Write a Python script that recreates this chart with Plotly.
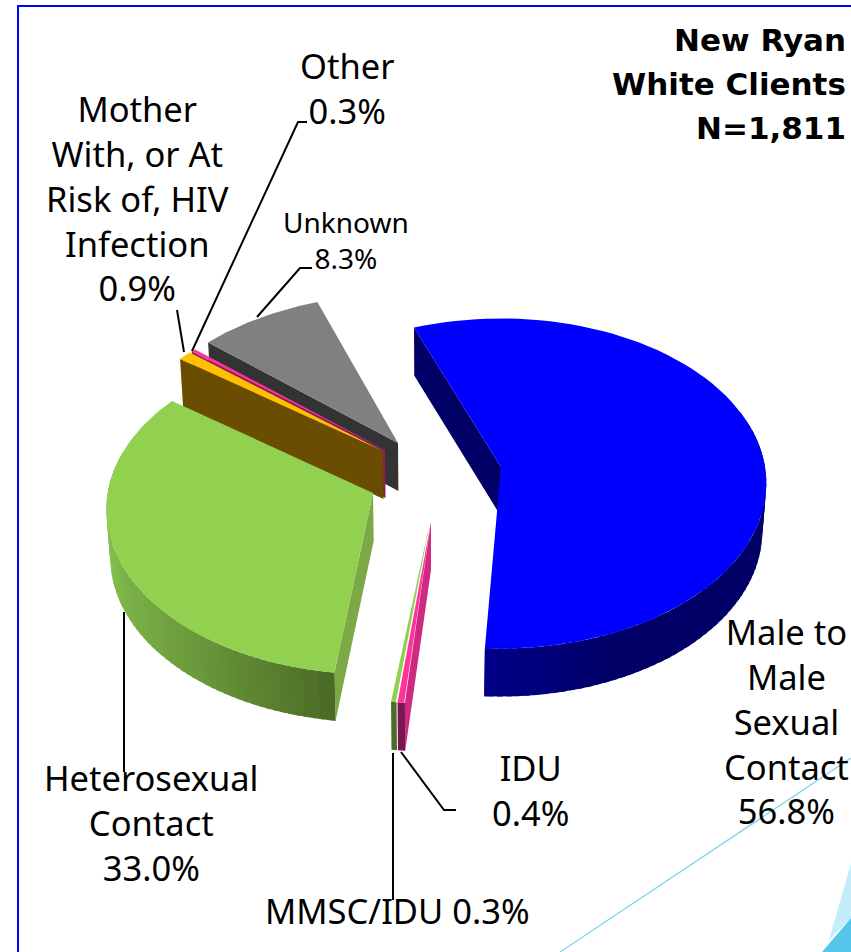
import math
import plotly.graph_objects as go

# ---- data ----
categories = ["Male to<br>Male<br>Sexual<br>Contact", "IDU", "MMSC/IDU", "Heterosexual<br>Contact",
              "Mother<br>With, or At<br>Risk of, HIV<br>Infection", "Other", "Unknown"]
values = [56.8, 0.4, 0.3, 33.0, 0.9, 0.3, 8.3]
title_lines = ["New Ryan", "White Clients", "N=1,811"]

# ---- styles ----
TOP = ["#0000FF", "#FF3399", "#92D050", "#92D050", "#FFC000", "#FF3399", "#808080"]
CUT = ["#000066", "#CF2A82", "#7CA946", "#7CA946", "#6A4D00", "#8F1A5C", "#333333"]
FRONT = ["#00007A", "#7A1650", "#4C6B28", None, None, None, None]
APEX = [(501, 467), (431, 522), (430, 522), (373, 493), (383, 451), (385, 450), (398, 443)]
ROT = [-1.9, 0, 0, 0, 0, 0, 0]
WIDTH_SCALE = [0.985, 1, 1, 0.99, 1, 1, 1]
A, B, K, DEPTH, START = 268, 165, 0.10, 48, -19.4
VANISH_X, VANISH_K = 430, 0.012
W, H = 851, 952


def project(i, theta):
    t = math.radians(theta + ROT[i])
    X, Y = math.sin(t), -math.cos(t)
    s = 1 + K * Y
    return APEX[i][0] + A * WIDTH_SCALE[i] * X * s, APEX[i][1] + B * Y * s


fig = go.Figure()


def poly(pts, color):
    xs = [p[0] for p in pts] + [pts[0][0]]
    ys = [p[1] for p in pts] + [pts[0][1]]
    fig.add_trace(go.Scatter(x=xs, y=ys, mode="lines", fill="toself", fillcolor=color,
                             line=dict(color=color, width=0), hoverinfo="skip", showlegend=False))


def drop(p):
    return (p[0] + (VANISH_X - p[0]) * VANISH_K, p[1] + DEPTH)


def mix(c1, c2, f):
    f = max(0.0, min(1.0, f))
    a = [int(c1[i:i + 2], 16) for i in (1, 3, 5)]
    b = [int(c2[i:i + 2], 16) for i in (1, 3, 5)]
    return "#%02x%02x%02x" % tuple(round(x + (y - x) * f) for x, y in zip(a, b))


# slice angular spans follow the values
spans = []
ang = START
for v in values:
    spans.append((ang, ang + v * 3.6))
    ang += v * 3.6


def arc(i, n=80):
    t0, t1 = spans[i]
    return [project(i, t0 + (t1 - t0) * j / n) for j in range(n + 1)]


def side_strip(i, t0, t1, colorfn, n=60):
    step = (t1 - t0) / n
    for j in range(n):
        a0 = t0 + step * j
        a1 = a0 + step * 1.6 if j < n - 1 else t1
        if j == n - 2:
            a1 = t1
        p0, p1 = project(i, a0), project(i, a1)
        poly([p0, p1, drop(p1), drop(p0)], colorfn((p0[0] + p1[0]) / 2, j / n))


def cut_face(i):
    ap = APEX[i]
    e = project(i, spans[i][0])
    poly([ap, e, drop(e), drop(ap)], CUT[i])


def top_face(i):
    poly([APEX[i]] + arc(i), TOP[i])


# Unknown (back), Other, Mother
for i in (6, 5, 4):
    cut_face(i)
    top_face(i)

# Heterosexual
i = 3
side_strip(i, 285, spans[i][0], lambda x, f: mix("#4A6A25", "#7BB046", (336 - x) / 208)
           if x > 128 else mix("#7BB046", "#84BE4C", (128 - x) / 20))
cut_face(i)
top_face(i)

# Male to Male
i = 0
cut_face(i)
side_strip(i, 75, spans[i][1], lambda x, f: mix("#000066", "#00008A", (f - 0.75) / 0.25))
top_face(i)

# MMSC/IDU and IDU slivers
i = 2
e0, e1 = project(i, spans[i][0]), project(i, spans[i][1])
poly([e0, e1, drop(e1), drop(e0)], FRONT[i])
top_face(i)
i = 1
e0, e1 = project(i, spans[i][0]), project(i, spans[i][1])
poly([APEX[i], e0, drop(e0), drop(APEX[i])], CUT[i])
poly([e0, e1, drop(e1), drop(e0)], FRONT[i])
top_face(i)

# leader lines
LEADERS = [
    [(192, 351), (298, 122), (307, 122)],
    [(257, 317), (300, 268), (312, 268)],
    [(184, 352), (177, 310)],
    [(124, 612), (124, 772)],
    [(393, 753), (393, 900)],
    [(401, 752), (444, 810), (456, 810)],
]
for L in LEADERS:
    fig.add_trace(go.Scatter(x=[p[0] for p in L], y=[p[1] for p in L], mode="lines",
                             line=dict(color="#000000", width=2), hoverinfo="skip", showlegend=False))

FONT = "Noto Sans"
pct = [f"{v:.1f}%" for v in values]
labels = [
    (categories[0] + "<br>" + pct[0], 786, 721, 34.5),
    (categories[1] + "<br>" + pct[1], 530, 790, 34.5),
    (categories[2] + " " + pct[2], 397, 910, 34.5),
    (categories[3] + "<br>" + pct[3], 151, 822, 34.5),
    (categories[4] + "<br>" + pct[4], 137, 198, 34.5),
    (categories[5] + "<br>" + pct[5], 347, 88, 34.5),
    (categories[6] + "<br>" + pct[6], 346, 240, 28),
]
ann = [dict(text=t, x=x, y=y, xref="x", yref="y", showarrow=False, xanchor="center", yanchor="middle",
            align="center", font=dict(family=FONT, size=s, color="#000000")) for t, x, y, s in labels]
for line, y in zip(title_lines, (40, 84, 128)):
    ann.append(dict(text="<b>" + line + "</b>", x=848, y=y, xref="x", yref="y",
                    showarrow=False, xanchor="right", yanchor="middle", align="right",
                    font=dict(family="DejaVu Sans", size=31, color="#000000")))

shapes = [
    dict(type="path", path="M 18 952 L 18 6 L 851 6", line=dict(color="#0000FF", width=2), layer="below"),
    dict(type="line", x0=560, y0=952, x1=851, y1=758, line=dict(color="#8FD9F3", width=1.5), layer="below"),
    dict(type="path", path="M 851 863 L 829 940 L 851 918 Z", fillcolor="#C5ECF9", line=dict(width=0), layer="below"),
    dict(type="path", path="M 851 918 L 822 952 L 851 952 Z", fillcolor="#55C5EC", line=dict(width=0), layer="below"),
]

fig.update_layout(
    width=W, height=H, margin=dict(l=0, r=0, t=0, b=0), paper_bgcolor="#FFFFFF", plot_bgcolor="#FFFFFF",
    showlegend=False, annotations=ann, shapes=shapes,
    xaxis=dict(range=[0, W], visible=False, fixedrange=True),
    yaxis=dict(range=[H, 0], visible=False, fixedrange=True),
)
fig.write_html("out.html", config={"displayModeBar": False},
               post_script="document.body.style.margin='0';")
